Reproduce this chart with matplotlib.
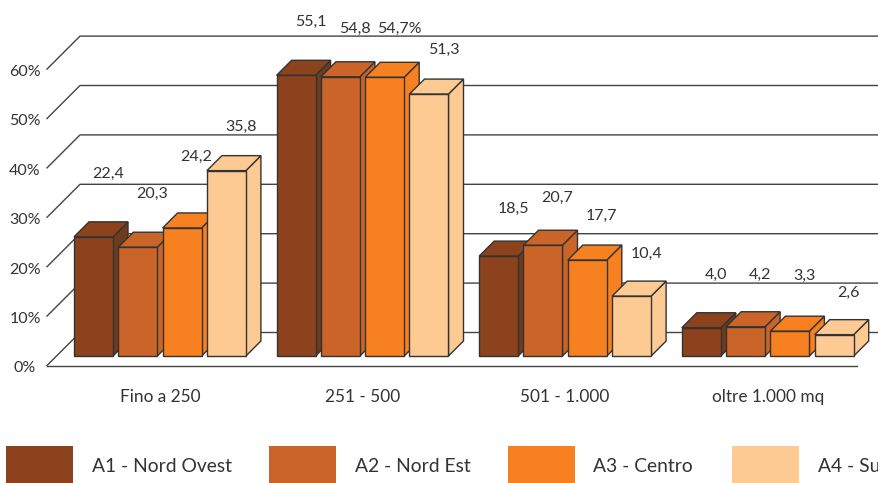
import matplotlib
matplotlib.use('Agg')
import matplotlib.pyplot as plt
from matplotlib.patches import Polygon, Rectangle

plt.rcParams['font.family'] = ['Lato', 'DejaVu Sans']

categories = ['Fino a 250', '251 - 500', '501 - 1.000', 'oltre 1.000 mq']
series_names = ['A1 - Nord Ovest', 'A2 - Nord Est', 'A3 - Centro', 'A4 - Sud']
colors = ['#8B421D', '#CB6428', '#F78020', '#FDCA94']
side_colors = ['#6F3A1E', '#CB6428', '#F78020', '#FDCA94']

a1_values = [22.4, 55.1, 18.5, 4.0]
a2_values = [20.3, 54.8, 20.7, 4.2]
a3_values = [24.2, 54.7, 17.7, 3.3]
a4_values = [35.8, 51.3, 10.4, 2.6]
series_values = [a1_values, a2_values, a3_values, a4_values]

y_ticks = [0, 10, 20, 30, 40, 50, 60]

# how far each value label sits above its bar, one row per series
label_lift = [
    [9.7, 7.8, 6.5, 7.6],
    [7.7, 6.6, 6.5, 7.4],
    [11.3, 6.7, 5.9, 8.1],
    [5.8, 5.9, 5.5, 5.4],
]

W, H = 879, 483
PX_X = 202.6   # pixels for one category
PX_Y = 4.94    # pixels for one percent
X0, Y0 = 74, 332.5   # pixel position of x=0, y=0

# oblique projection of the floor and of the bars
FLOOR_DX, FLOOR_DY = 33 / PX_X, 33 / PX_Y
BAR_DX, BAR_DY = 15 / PX_X, 15 / PX_Y
BAR_W = 39 / PX_X
BAR_STEP = 44.3 / PX_X
BAR_BOTTOM = (Y0 - 356) / PX_Y
WALL_LEFT, WALL_RIGHT = 6 / PX_X, 816 / PX_X
EDGE = '#333333'
TEXT = '#333333'

fig = plt.figure(figsize=(W / 100, H / 100), dpi=100)
ax = fig.add_axes([0, 0, 1, 1])
ax.set_xlim(-X0 / PX_X, (W - X0) / PX_X)
ax.set_ylim((Y0 - H) / PX_Y, Y0 / PX_Y)
ax.axis('off')

# walls and floor
for t in y_ticks:
    ax.plot([WALL_LEFT - FLOOR_DX, WALL_LEFT, WALL_RIGHT], [t - FLOOR_DY, t, t],
            color='#444444', lw=1, zorder=1)
    ax.text(-49 / PX_X, t - FLOOR_DY - 0.6, f'{t}%', ha='center', va='center',
            fontsize=11.5, color=TEXT)
ax.plot([WALL_LEFT - FLOOR_DX, WALL_RIGHT - FLOOR_DX], [-FLOOR_DY, -FLOOR_DY],
        color='#444444', lw=1, zorder=1)


def draw_bar(x, value, face, side):
    top = value - BAR_DY
    x2 = x + BAR_W
    ax.add_patch(Polygon([(x2, BAR_BOTTOM), (x2 + BAR_DX, BAR_BOTTOM + BAR_DY),
                          (x2 + BAR_DX, value), (x2, top)],
                         facecolor=side, edgecolor=EDGE, lw=1, zorder=2))
    ax.add_patch(Polygon([(x, top), (x + BAR_DX, value), (x2 + BAR_DX, value), (x2, top)],
                         facecolor=face, edgecolor=EDGE, lw=1, zorder=2))
    ax.add_patch(Rectangle((x, BAR_BOTTOM), BAR_W, top - BAR_BOTTOM,
                           facecolor=face, edgecolor=EDGE, lw=1, zorder=2))


for i, cat in enumerate(categories):
    for j, values in enumerate(series_values):
        x = i + j * BAR_STEP
        draw_bar(x, values[i], colors[j], side_colors[j])
        label = f'{values[i]:.1f}'.replace('.', ',')
        if i == 1 and j == 2:
            label += '%'
        ax.text(x + 34 / PX_X, values[i] + label_lift[j][i], label, ha='center', va='center',
                fontsize=11.5, color=TEXT, zorder=3)
    ax.text(i + (3 * BAR_STEP + BAR_W) / 2, (Y0 - 397) / PX_Y, cat, ha='center', va='center',
            fontsize=12.4, color=TEXT)

# legend along the bottom edge
legend_left = [6, 269, 508, 732]
legend_text = [92, 355, 593, 818]
for j, name in enumerate(series_names):
    fig.patches.append(Rectangle((legend_left[j] / W, 0), 67 / W, 37 / H, facecolor=colors[j],
                                 edgecolor='none', transform=fig.transFigure))
    fig.text(legend_text[j] / W, (H - 467) / H, name, ha='left', va='center',
             fontsize=13.9, color=TEXT)

fig.savefig('out.png', dpi=100)
